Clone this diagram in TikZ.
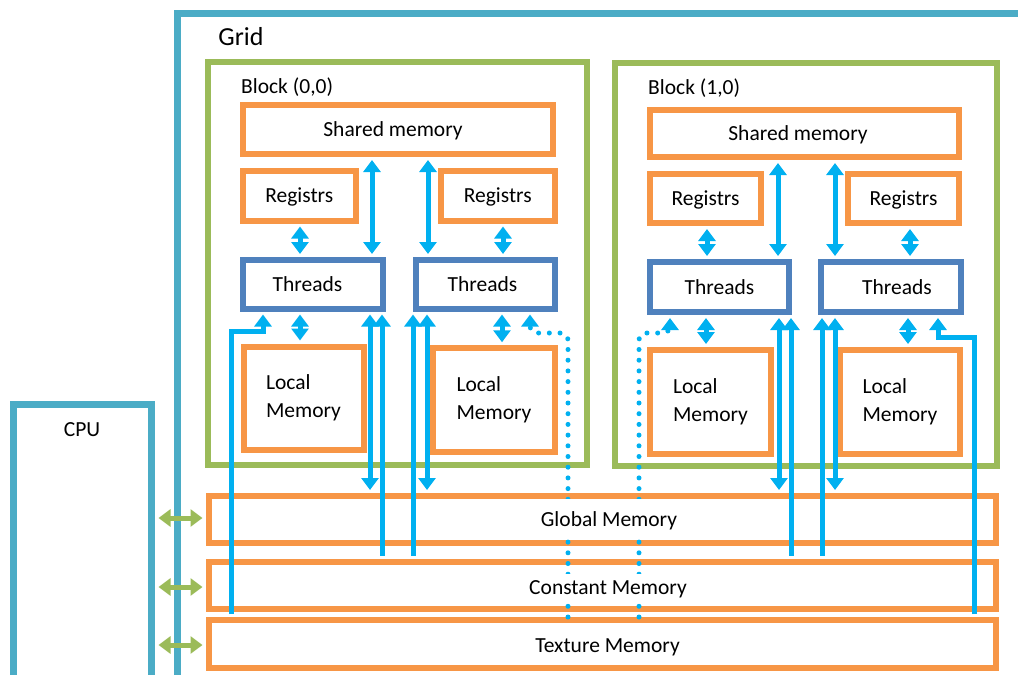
\documentclass[tikz,border=0pt]{standalone}
\usepackage{fontspec}
\setmainfont{Carlito}
\usetikzlibrary{arrows.meta}
\definecolor{cOrange}{HTML}{F79646}
\definecolor{cGreen}{HTML}{9BBB59}
\definecolor{cBlue}{HTML}{4F81BD}
\definecolor{cGrid}{HTML}{4BACC6}
\definecolor{cArrow}{HTML}{00B0F0}
\newcommand{\fsz}{\fontsize{21.5}{28}\selectfont}
\begin{document}
\begin{tikzpicture}[x=1pt,y=-1pt,
  >={Triangle[width=17pt 0 0,length=12pt 0 0]},
  box/.style={rectangle, inner sep=0pt, line width=6pt, fill=white, font=\fsz, text height=14pt, text depth=0pt},
  mem/.style={box, draw=cOrange},
  thr/.style={box, draw=cBlue},
  loc/.style={rectangle, inner sep=0pt, line width=6pt, fill=white, draw=cOrange, font=\fsz, align=left},
  blk/.style={rectangle, inner sep=0pt, line width=6pt, draw=cGreen, fill=white},
  outer/.style={rectangle, inner sep=0pt, line width=7pt, draw=cGrid, fill=white},
  lbl/.style={inner sep=0pt, font=\fsz, text height=14pt, text depth=0pt},
  ba/.style={draw=cArrow, line width=5pt, shorten >=3pt, shorten <=3pt, line join=miter},
  ga/.style={draw=cGreen, line width=5pt, shorten >=3pt, shorten <=3.5pt, <->},
  dotarr/.style={draw=cArrow, line width=5pt, line cap=round, dash pattern=on 0pt off 10.7pt, rounded corners=7pt, ->, shorten >=3pt}
]
\useasboundingbox (0,0) rectangle (1018,675);
\clip (0,0) rectangle (1018,675);

% outer boxes
\node[outer, minimum width=853pt, minimum height=665pt] (grid) at (603.5,345.5) {};
\node[outer, minimum width=138pt, minimum height=296pt] (cpu) at (82.5,552) {};
\node[lbl, font=\fontsize{26}{30}\selectfont, text height=17pt] (gridlbl) at (241,37) {Grid};
\node[lbl] (cpulbl) at (82,429.5) {CPU};

% blocks
\node[blk, minimum width=379pt, minimum height=403pt] (b00) at (397.5,263) {};
\node[blk, minimum width=381.5pt, minimum height=403pt] (b10) at (805.75,264.5) {};
\node[lbl, anchor=west] (b00lbl) at (241,86) {Block (0,0)};
\node[lbl, anchor=west] (b10lbl) at (648,87) {Block (1,0)};

% block (0,0) contents
\node[mem, minimum width=310pt, minimum height=49pt] (sh00) at (398,129.5) {\hspace*{-10pt}Shared memory};
\node[mem, minimum width=112.5pt, minimum height=49.5pt] (r00a) at (299.25,195.75) {Registrs};
\node[mem, minimum width=113.5pt, minimum height=49.5pt] (r00b) at (497.75,195.75) {Registrs};
\node[thr, minimum width=140pt, minimum height=48.5pt] (t00a) at (313,284.25) {\hspace*{-11pt}Threads};
\node[thr, minimum width=139pt, minimum height=48.5pt] (t00b) at (485,284.25) {\hspace*{-5pt}Threads};
\node[loc, minimum width=120pt, minimum height=103.5pt] (l00a) at (303.5,398.25) {Local\\Memory};
\node[loc, minimum width=122pt, minimum height=103.5pt] (l00b) at (494,400) {Local\\Memory};

% block (1,0) contents
\node[mem, minimum width=309pt, minimum height=47pt] (sh10) at (804.5,133.5) {\hspace*{-13pt}Shared memory};
\node[mem, minimum width=111pt, minimum height=49pt] (r10a) at (705.5,198.5) {Registrs};
\node[mem, minimum width=111pt, minimum height=49pt] (r10b) at (903.5,198.5) {Registrs};
\node[thr, minimum width=139pt, minimum height=50pt] (t10a) at (719.5,287) {Threads};
\node[thr, minimum width=140pt, minimum height=50pt] (t10b) at (891,287) {Threads\hspace*{-12pt}};
\node[loc, minimum width=121pt, minimum height=104pt] (l10a) at (710.5,402) {Local\\Memory};
\node[loc, minimum width=120pt, minimum height=104pt] (l10b) at (900,402) {Local\\Memory};

% device memories
\node[mem, minimum width=787.5pt, minimum height=46.5pt] (glob) at (602.25,519.25) {};
\node[mem, minimum width=787.5pt, minimum height=47pt] (cons) at (602.25,585) {};
\node[mem, minimum width=787.5pt, minimum height=47.5pt] (tex) at (602.25,643.75) {};

% dotted texture paths
\draw[dotarr] (568,0 |- tex.north) -- (568,333) -- (530,333) -- (530,0 |- t00b.south);
\draw[dotarr] (639,0 |- tex.north) -- (639,333) -- (670,333) -- (670,0 |- t10a.south);

% memory labels
\node[lbl, fill=white, minimum height=40pt] (globlbl) at (609,519) {Global Memory};
\node[lbl, fill=white, minimum height=26pt] (conslbl) at (608,587) {Constant Memory};
\node[lbl, fill=white] (texlbl) at (607.5,645) {Texture Memory};

% CPU links
\draw[ga] (cpu.east |- 0,518) -- (glob.west |- 0,518);
\draw[ga] (cpu.east |- 0,587) -- (cons.west |- 0,587);
\draw[ga] (cpu.east |- 0,645) -- (tex.west |- 0,645);

% block (0,0) arrows
\draw[ba,<->] (300,0 |- r00a.south) -- (300,0 |- t00a.north);
\draw[ba,<->] (372,0 |- sh00.south) -- (372,0 |- t00a.north);
\draw[ba,<->] (428,0 |- sh00.south) -- (428,0 |- t00b.north);
\draw[ba,<->] (503,0 |- r00b.south) -- (503,0 |- t00b.north);
\draw[ba,<->] (300,0 |- t00a.south) -- (300,0 |- l00a.north);
\draw[ba,<->] (502,0 |- t00b.south) -- (502,0 |- l00b.north);
\draw[ba,<->] (370,0 |- t00a.south) -- (370,0 |- glob.north);
\draw[ba,->] (382,0 |- cons.north) -- (382,0 |- t00a.south);
\draw[ba,->] (413,0 |- cons.north) -- (413,0 |- t00b.south);
\draw[ba,<->] (427,0 |- t00b.south) -- (427,0 |- glob.north);
\draw[ba,->] (231,0 |- tex.north) -- (231,331) -- (263,331) -- (263,0 |- t00a.south);

% block (1,0) arrows
\draw[ba,<->] (707,0 |- r10a.south) -- (707,0 |- t10a.north);
\draw[ba,<->] (778,0 |- sh10.south) -- (778,0 |- t10a.north);
\draw[ba,<->] (835,0 |- sh10.south) -- (835,0 |- t10b.north);
\draw[ba,<->] (910,0 |- r10b.south) -- (910,0 |- t10b.north);
\draw[ba,<->] (706,0 |- t10a.south) -- (706,0 |- l10a.north);
\draw[ba,<->] (908,0 |- t10b.south) -- (908,0 |- l10b.north);
\draw[ba,<->] (779,0 |- t10a.south) -- (779,0 |- glob.north);
\draw[ba,->] (791,0 |- cons.north) -- (791,0 |- t10a.south);
\draw[ba,->] (822,0 |- cons.north) -- (822,0 |- t10b.south);
\draw[ba,<->] (835,0 |- t10b.south) -- (835,0 |- glob.north);
\draw[ba,->] (974,0 |- tex.north) -- (974,337) -- (938,337) -- (938,0 |- t10b.south);
\end{tikzpicture}
\end{document}
